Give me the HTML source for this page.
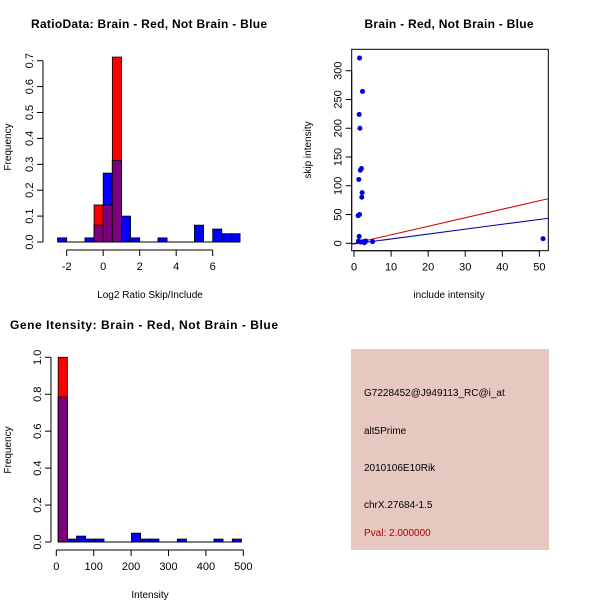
<!DOCTYPE html>
<html><head><meta charset="utf-8"><style>
body{margin:0;background:#fff}
svg{display:block;font-family:"Liberation Sans",sans-serif}
</style></head><body>
<svg id="s" width="600" height="600" viewBox="0 0 600 600">
<rect width="600" height="600" fill="#fff"/>
<text x="149" y="28" font-size="12" font-weight="bold" text-anchor="middle" textLength="236">RatioData: Brain - Red, Not Brain - Blue</text>
<text x="449" y="28" font-size="12" font-weight="bold" text-anchor="middle" textLength="169">Brain - Red, Not Brain - Blue</text>
<text x="144" y="329" font-size="12" font-weight="bold" text-anchor="middle" textLength="268">Gene Itensity: Brain - Red, Not Brain - Blue</text>
<text x="150" y="298" font-size="10" text-anchor="middle">Log2 Ratio Skip/Include</text>
<text transform="translate(11,147) rotate(-90)" font-size="10" text-anchor="middle">Frequency</text>
<text x="449" y="298" font-size="10" text-anchor="middle">include intensity</text>
<text transform="translate(311,150) rotate(-90)" font-size="10" text-anchor="middle">skip intensity</text>
<text x="150" y="598" font-size="10" text-anchor="middle">Intensity</text>
<text transform="translate(11,450) rotate(-90)" font-size="10" text-anchor="middle">Frequency</text>
<g>
<rect x="351" y="349" width="198" height="201" fill="#e6c8c0"/>
<text x="364" y="396" font-size="10">G7228452@J949113_RC@i_at</text>
<text x="364" y="434" font-size="10">alt5Prime</text>
<text x="364" y="471" font-size="10">2010106E10Rik</text>
<text x="364" y="508" font-size="10">chrX.27684-1.5</text>
<text x="364" y="536" font-size="10" fill="#b00000">Pval: 2.000000</text>
</g>
<g id="g1"></g><g id="g2"></g><g id="g3"></g>
</svg>
<script>
// Plot 1 data (bin starts width 0.5)
const ratioBins = [-2.5,-2,-1.5,-1,-0.5,0,0.5,1,1.5,2,2.5,3,3.5,4,4.5,5,5.5,6,6.5,7];
const ratioBlue = [0.016,0,0,0.016,0.065,0.266,0.315,0.1,0.016,0,0,0.016,0,0,0,0.065,0,0.05,0.032,0.032];
const ratioRed  = [0,0,0,0,0.143,0.143,0.714,0,0,0,0,0,0,0,0,0,0,0,0,0];
const ratioXTicks = [-2,0,2,4,6];
const ratioYTicks = [0,0.1,0.2,0.3,0.4,0.5,0.6,0.7];
// Plot 2 data
const incl = [1.5,2.3,1.4,1.6,2,1.7,1.3,2.2,2.1,1.5,1.1,1.4,1.2,1.8,2.5,3,3.2,2.8,5,51];
const skip = [322,264,224,200,130,127,111,88,80,50,48,12,4,2,3,2,4,1,3,8];
const redLine = [0,1.48];
const blueLine = [-1,0.85];
const scXTicks = [0,10,20,30,40,50];
const scYTicks = [0,50,100,150,200,250,300];
// Plot 3 data (bin starts width 24.5)
const intBins = [5,29.5,54,78.5,103,127.5,152,176.5,201,225.5,250,274.5,299,323.5,348,372.5,397,421.5,446,470.5];
const intBlue = [0.785,0.016,0.032,0.016,0.016,0,0,0,0.048,0.016,0.016,0,0,0.016,0,0,0,0.016,0,0.016];
const intRed  = [1,0,0,0,0,0,0,0,0,0,0,0,0,0,0,0,0,0,0,0];
const intXTicks = [0,100,200,300,400,500];
const intYTicks = [0,0.2,0.4,0.6,0.8,1.0];

const NS="http://www.w3.org/2000/svg";
function mk(p,t,a){const e=document.createElementNS(NS,t);for(const k in a)e.setAttribute(k,a[k]);p.appendChild(e);return e;}
function hist(g,bins,w,blue,red,sx,sy,name){
  bins.forEach((b,i)=>{
    const x0=sx(b),x1=sx(b+w),yb=sy(0);
    const bl=blue[i],rd=red[i],mn=Math.min(bl,rd);
    if(bl>0){const r=mk(g,'rect',{x:x0,y:sy(bl),width:x1-x0,height:yb-sy(bl),fill:'#0000ff',stroke:'#000','stroke-width':0.8});
      
      }
    if(rd>0){const r=mk(g,'rect',{x:x0,y:sy(rd),width:x1-x0,height:yb-sy(rd),fill:'#ff0000',stroke:'#000','stroke-width':0.8});
      
      }
    if(mn>0){const r=mk(g,'rect',{x:x0,y:sy(mn),width:x1-x0,height:yb-sy(mn),fill:'#7f007f',stroke:'#000','stroke-width':0.8});
      
      }
  });
}
function xaxis(g,ticks,sx,y,name){
  const l=mk(g,'line',{x1:sx(ticks[0]),x2:sx(ticks[ticks.length-1]),y1:y,y2:y,stroke:'#000'});
  
  
  ticks.forEach(t=>{mk(g,'line',{x1:sx(t),x2:sx(t),y1:y,y2:y+6,stroke:'#000'});
    const tx=mk(g,'text',{x:sx(t),y:y+20,'font-size':11,'text-anchor':'middle'});tx.textContent=t;
    
    });
}
function yaxis(g,ticks,sy,x,name,fmt){
  const l=mk(g,'line',{x1:x,x2:x,y1:sy(ticks[0]),y2:sy(ticks[ticks.length-1]),stroke:'#000'});
  
  
  ticks.forEach(t=>{mk(g,'line',{x1:x,x2:x-6,y1:sy(t),y2:sy(t),stroke:'#000'});
    const tx=mk(g,'text',{transform:`translate(${x-10},${sy(t)}) rotate(-90)`,'font-size':11,'text-anchor':'middle'});tx.textContent=fmt(t);
    
    });
}
// Plot 1
{const g=document.getElementById('g1');
 const sx=v=>103.2+v*18.25, sy=v=>242-v*259;
 hist(g,ratioBins,0.5,ratioBlue,ratioRed,sx,sy,'ratio');
 mk(g,'line',{x1:sx(-2.5),x2:sx(7.5),y1:242,y2:242,stroke:'#000'});
 xaxis(g,ratioXTicks,sx,250,'ratio');
 yaxis(g,ratioYTicks,sy,43,'ratio',t=>t.toFixed(1));}
// Plot 2
{const g=document.getElementById('g2');
 const sx=v=>354+v*3.707, sy=v=>243.3-v*0.5753;
 mk(g,'rect',{x:351.7,y:49.3,width:196.6,height:201.4,fill:'none',stroke:'#000'});
 const cp=mk(g,'clipPath',{id:'cp'});mk(cp,'rect',{x:351.7,y:49.3,width:196.6,height:201.4});
 const x0=-1,x1=53;
 const rl=mk(g,'line',{x1:sx(x0),y1:sy(redLine[0]+redLine[1]*x0),x2:sx(x1),y2:sy(redLine[0]+redLine[1]*x1),stroke:'#cc0000','clip-path':'url(#cp)'});
 
 
 const bl=mk(g,'line',{x1:sx(x0),y1:sy(blueLine[0]+blueLine[1]*x0),x2:sx(x1),y2:sy(blueLine[0]+blueLine[1]*x1),stroke:'#0000aa','clip-path':'url(#cp)'});
 
 
 incl.forEach((v,i)=>{const c=mk(g,'circle',{cx:sx(v),cy:sy(skip[i]),r:2.5,fill:'#0000dd'});
   
   });
 xaxis(g,scXTicks,sx,250.7,'scatter');
 yaxis(g,scYTicks,sy,351.7,'scatter',t=>t);}
// Plot 3
{const g=document.getElementById('g3');
 const sx=v=>56.3+v*0.374, sy=v=>542-v*184.7;
 hist(g,intBins,24.5,intBlue,intRed,sx,sy,'intensity');
 mk(g,'line',{x1:sx(5),x2:sx(495),y1:542,y2:542,stroke:'#000'});
 xaxis(g,intXTicks,sx,550,'intensity');
 yaxis(g,intYTicks,sy,51,'intensity',t=>t.toFixed(1));}
</script>
</body></html>
